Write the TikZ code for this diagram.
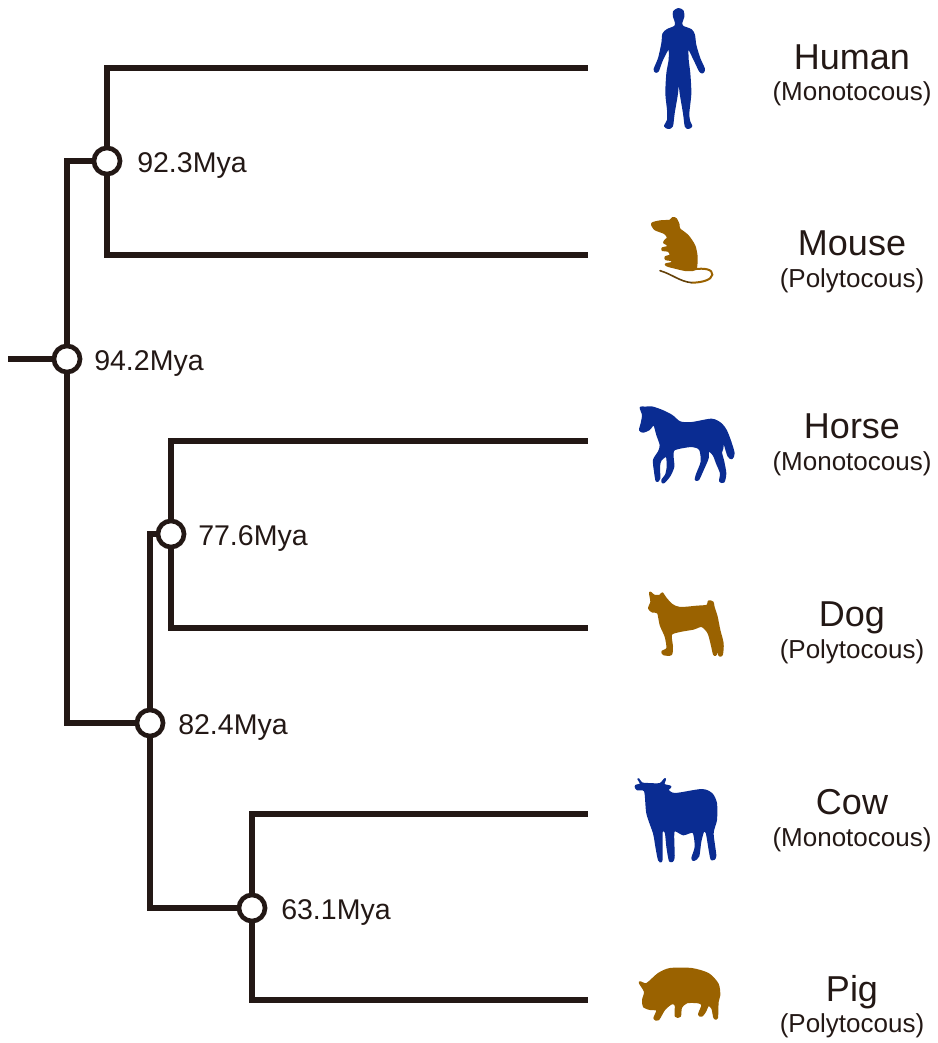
\documentclass[tikz,border=0pt]{standalone}
\usepackage{fontspec}
\setmainfont{Liberation Sans}
\definecolor{ink}{HTML}{231815}
\definecolor{mono}{HTML}{0A2C92}
\definecolor{poly}{HTML}{9A6200}
\tikzset{
  branch/.style={draw=ink,line width=3.85pt,miter limit=10},
  dot/.style={circle,draw=ink,line width=3.5pt,fill=white,minimum size=19.6pt,inner sep=0pt},
  age/.style={anchor=base west,text=ink,font=\fontsize{21.4}{21.4}\selectfont,inner sep=0pt},
  species/.style={anchor=base,text=ink,font=\fontsize{27}{27}\selectfont,inner sep=0pt},
  habit/.style={anchor=base,text=ink,font=\fontsize{19.5}{19.5}\selectfont,inner sep=0pt},
  sil/.style={smooth cycle,tension=0.45},
  silmono/.style={draw=mono,fill=mono,line width=1.5pt,line join=round},
  silpoly/.style={draw=poly,fill=poly,line width=1.5pt,line join=round},
}
\begin{document}
\begin{tikzpicture}[x=0.75pt,y=-0.75pt]
\useasboundingbox (0,0) rectangle (938,1043);
% tree nodes
\node[dot] (n0) at (67,359) {};
\node[dot] (n1) at (107,161) {};
\node[dot] (n2) at (171,534) {};
\node[dot] (n3) at (150,723) {};
\node[dot] (n4) at (252,908) {};
\coordinate (root) at (8,359);
\coordinate (human) at (588,68);
\coordinate (mouse) at (588,255);
\coordinate (horse) at (588,441);
\coordinate (dog) at (588,628);
\coordinate (cow) at (588,814);
\coordinate (pig) at (588,1000);
% connectors
\draw[branch] (root) -- (n0);
\draw[branch] (n0) |- (n1);
\draw[branch] (n0) |- (n3);
\draw[branch] (n1) |- (human);
\draw[branch] (n1) |- (mouse);
\draw[branch] (n3) |- (n2);
\draw[branch] (n3) |- (n4);
\draw[branch] (n2) |- (horse);
\draw[branch] (n2) |- (dog);
\draw[branch] (n4) |- (cow);
\draw[branch] (n4) |- (pig);
% ages
\node[age] (a1) at (137,172) {92.3Mya};
\node[age] (a0) at (94,370) {94.2Mya};
\node[age] (a2) at (198,545) {77.6Mya};
\node[age] (a3) at (178,734) {82.4Mya};
\node[age] (a4) at (281,919) {63.1Mya};
% species labels
\node[species] (l1) at (852,69) {Human};
\node[habit] (h1) at (852,100) {(Monotocous)};
\node[species] (l2) at (852,255) {Mouse};
\node[habit] (h2) at (852,287) {(Polytocous)};
\node[species] (l3) at (852,438) {Horse};
\node[habit] (h3) at (852,470) {(Monotocous)};
\node[species] (l4) at (852,626) {Dog};
\node[habit] (h4) at (852,658) {(Polytocous)};
\node[species] (l5) at (852,814) {Cow};
\node[habit] (h5) at (852,846) {(Monotocous)};
\node[species] (l6) at (852,1001) {Pig};
\node[habit] (h6) at (852,1032) {(Polytocous)};
% human
\begin{scope}[shift={(620,0)},x=0.25pt,y=-0.25pt]
\path[silmono] plot[sil] coordinates {(175,27)(188,33)(190,50)(184,68)(188,80)(213,90)(222,105)(226,135)(238,175)(252,207)(248,217)(240,213)(224,180)(204,142)(203,178)(208,220)(211,280)(205,340)(208,365)(214,378)(205,384)(197,378)(192,340)(182,280)(176,228)(171,280)(161,340)(156,378)(145,384)(135,378)(144,360)(144,330)(139,280)(142,220)(149,178)(147,142)(126,180)(114,212)(107,215)(104,207)(117,175)(127,130)(130,102)(142,90)(165,80)(168,68)(162,50)(162,35)};
\end{scope}
% mouse
\begin{scope}[shift={(630,200)},x=0.25pt,y=-0.25pt]
\path[silpoly] plot[sil] coordinates {(66,71)(90,64)(120,62)(128,54)(138,57)(146,74)(148,87)(173,107)(193,137)(200,170)(198,203)(188,210)(165,210)(135,203)(115,198)(107,193)(128,188)(123,180)(108,178)(107,171)(122,166)(116,153)(97,150)(97,145)(115,140)(110,132)(102,128)(107,120)(114,113)(105,100)(85,92)(74,87)};
\draw[poly,line width=1.5pt,line cap=round] (190,208) .. controls (225,203) and (248,208) .. (247,224) .. controls (245,240) and (215,248) .. (185,248);
\draw[poly!55!ink,line width=1.2pt,line cap=round] (185,248) .. controls (150,245) and (125,222) .. (90,212);
\end{scope}
% horse
\begin{scope}[shift={(625,395)},x=0.25pt,y=-0.25pt]
\path[silmono] plot[sil] coordinates {(47,38)(60,38)(80,37)(110,47)(140,62)(165,82)(200,84)(260,74)(288,87)(303,107)(316,140)(326,175)(320,190)(310,182)(300,150)(295,135)(292,160)(288,172)(295,200)(301,235)(296,260)(285,258)(288,235)(276,205)(266,180)(250,165)(248,190)(233,225)(220,253)(212,253)(217,235)(230,200)(225,163)(200,153)(148,163)(143,185)(145,215)(133,243)(115,263)(112,255)(123,240)(128,215)(125,183)(107,195)(102,215)(103,250)(95,258)(90,230)(87,195)(102,170)(107,150)(97,120)(87,88)(72,103)(55,110)(45,105)(50,85)(54,60)};
\end{scope}
% dog
\begin{scope}[shift={(630,580)},x=0.25pt,y=-0.25pt]
\path[silpoly] plot[sil] coordinates {(60,38)(72,47)(90,47)(97,40)(105,52)(125,74)(150,84)(200,80)(232,77)(236,64)(248,67)(251,82)(260,110)(268,150)(278,190)(276,223)(268,226)(262,200)(258,223)(252,223)(245,193)(235,158)(215,138)(190,146)(150,153)(123,163)(126,200)(123,223)(102,223)(97,215)(112,205)(107,170)(92,135)(84,98)(68,95)(57,85)(64,65)};
\end{scope}
% cow
\begin{scope}[shift={(625,770)},x=0.25pt,y=-0.25pt]
\path[silmono] plot[sil] coordinates {(40,27)(50,40)(70,42)(105,42)(120,27)(116,44)(136,50)(128,60)(150,72)(230,60)(260,72)(273,100)(273,150)(263,190)(271,258)(260,268)(254,240)(245,188)(235,183)(226,215)(220,258)(207,270)(202,264)(212,230)(205,186)(175,193)(146,183)(146,263)(135,273)(127,230)(122,186)(110,186)(110,268)(102,270)(94,230)(87,190)(67,130)(60,63)(37,58)(32,48)(48,42)};
\end{scope}
% pig
\begin{scope}[shift={(625,955)},x=0.25pt,y=-0.25pt]
\path[silpoly] plot[sil] coordinates {(44,82)(65,87)(100,57)(135,42)(200,42)(250,57)(278,87)(283,120)(278,140)(276,188)(268,188)(262,160)(250,150)(240,170)(230,182)(222,178)(232,150)(220,142)(185,142)(168,158)(165,183)(152,183)(152,150)(140,145)(118,163)(100,193)(88,190)(97,165)(75,162)(57,155)(54,135)(60,110)};
\end{scope}
\end{tikzpicture}
\end{document}
